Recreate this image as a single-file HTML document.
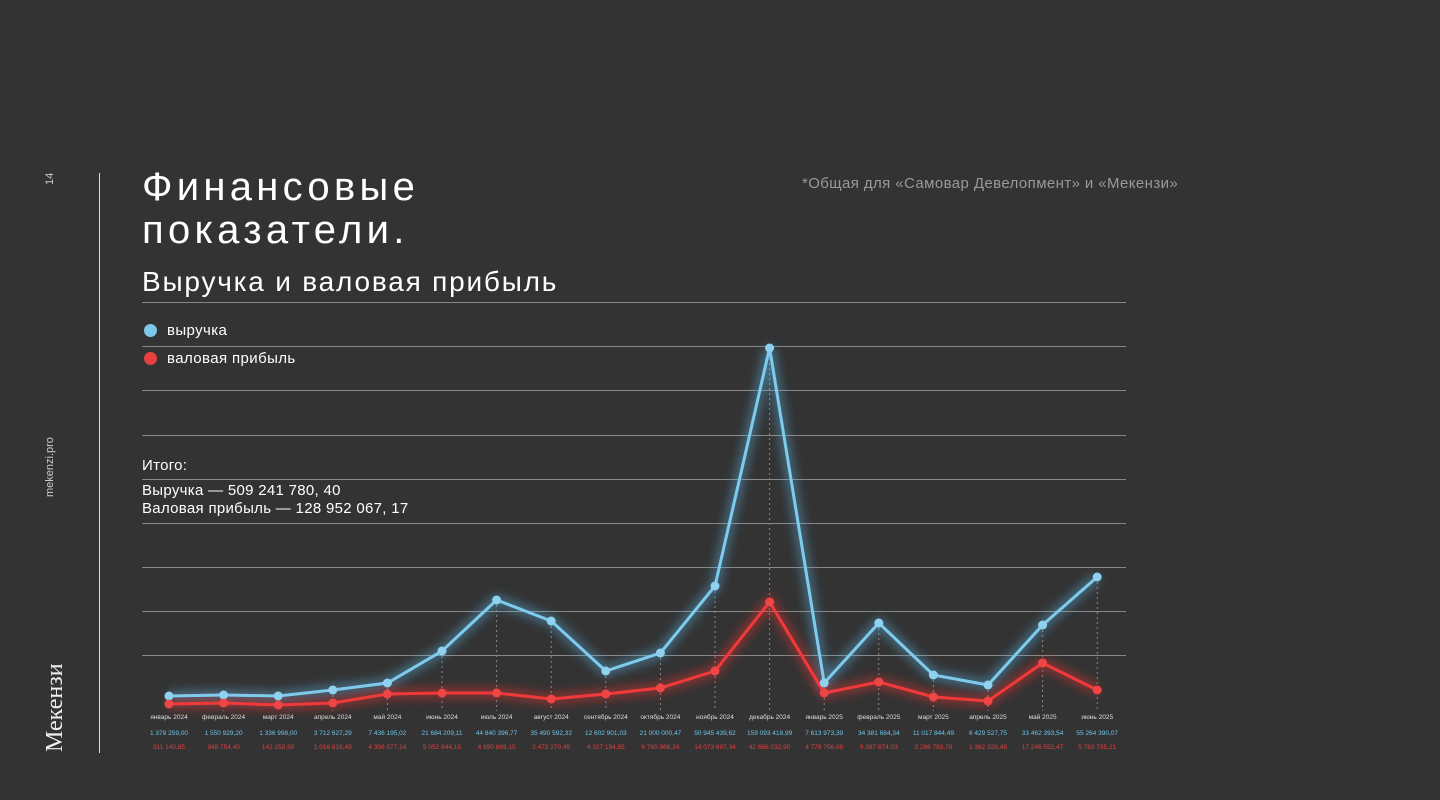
<!DOCTYPE html>
<html><head><meta charset="utf-8"><style>
body{margin:0;width:1440px;height:800px;background:#333333;overflow:hidden;font-family:"Liberation Sans",sans-serif;position:relative;color:#fff}
.a{position:absolute;white-space:nowrap}
</style></head><body>
<div class="a" style="left:99px;top:173px;width:1px;height:580px;background:#ddd"></div>
<div class="a" style="left:44px;top:185px;transform:rotate(-90deg);transform-origin:0 0;font-size:11px;color:#ccc">14</div>
<div class="a" style="left:44px;top:497px;transform:rotate(-90deg);transform-origin:0 0;font-size:11px;color:#ccc">mekenzi.pro</div>
<div class="a" style="left:42px;top:752px;transform:rotate(-90deg);transform-origin:0 0;font-size:24px;font-family:'Liberation Serif',serif;color:#eee">Мекензи</div>
<div class="a" style="left:142px;top:166px;font-size:40px;line-height:43px;letter-spacing:4.3px">Финансовые<br>показатели.</div>
<div class="a" style="left:142px;top:266px;font-size:28px;letter-spacing:1.8px">Выручка и валовая прибыль</div>
<div class="a" style="left:802px;top:175px;font-size:15px;color:#999;letter-spacing:0.4px">*Общая для «Самовар Девелопмент» и «Мекензи»</div>
<div class="a" style="left:144px;top:324px;width:13px;height:13px;border-radius:50%;background:#7cc8ea"></div>
<div class="a" style="left:167px;top:322px;font-size:15px;letter-spacing:0.4px">выручка</div>
<div class="a" style="left:144px;top:352px;width:13px;height:13px;border-radius:50%;background:#e84040"></div>
<div class="a" style="left:167px;top:350px;font-size:15px;letter-spacing:0.4px">валовая прибыль</div>
<div class="a" style="left:142px;top:457px;font-size:15px;letter-spacing:0.3px">Итого:</div>
<div class="a" style="left:142px;top:482px;font-size:15px;line-height:18px;letter-spacing:0.3px">Выручка — 509 241 780, 40<br>Валовая прибыль — 128 952 067, 17</div>
<svg class="a" style="left:0;top:0" width="1440" height="800">
<defs><filter id="g" x="-20%" y="-20%" width="140%" height="140%"><feGaussianBlur stdDeviation="5"/></filter></defs>
<g stroke="#888" stroke-width="1">
<line x1="142" y1="302.5" x2="1126" y2="302.5"/><line x1="142" y1="346.5" x2="1126" y2="346.5"/><line x1="142" y1="390.5" x2="1126" y2="390.5"/><line x1="142" y1="435.5" x2="1126" y2="435.5"/><line x1="142" y1="479.5" x2="1126" y2="479.5"/><line x1="142" y1="523.5" x2="1126" y2="523.5"/><line x1="142" y1="567.5" x2="1126" y2="567.5"/><line x1="142" y1="611.5" x2="1126" y2="611.5"/><line x1="142" y1="655.5" x2="1126" y2="655.5"/>
</g>
<g id="v" stroke="#888" stroke-dasharray="2,3" stroke-width="1"></g>
<polyline id="bg" fill="none" stroke="#5ab8e8" stroke-width="10" opacity=".45" filter="url(#g)"/>
<polyline id="rg" fill="none" stroke="#ff3030" stroke-width="10" opacity=".45" filter="url(#g)"/>
<polyline id="b" fill="none" stroke="#7fcbee" stroke-width="3"/>
<polyline id="r" fill="none" stroke="#f03a3a" stroke-width="3"/>
<g id="d"></g>
<g id="t" font-family="Liberation Sans,sans-serif" font-size="6.5" text-anchor="middle"></g>
</svg>
<script>
var xs=[],B=[696,695,696,690,683,651,600,621,671,653,586,348,683,623,675,685,625,577],R=[704,703,705,703,694,693,693,699,694,688,671,602,693,682,697,701,663,690];
for(var i=0;i<18;i++)xs.push(169+i*54.6);
var m=["январь 2024","февраль 2024","март 2024","апрель 2024","май 2024","июнь 2024","июль 2024","август 2024","сентябрь 2024","октябрь 2024","ноябрь 2024","декабрь 2024","январь 2025","февраль 2025","март 2025","апрель 2025","май 2025","июнь 2025"];
var bv=["1 378 259,00","1 550 929,20","1 336 998,00","3 712 627,29","7 436 195,02","21 684 209,11","44 840 396,77","35 490 592,32","12 602 901,03","21 000 000,47","50 945 439,62","159 093 418,99","7 613 973,39","34 381 684,34","11 017 844,49","6 429 527,75","33 462 393,54","55 264 390,07"];
var rv=["311 140,85","948 754,40","142 250,50","1 016 818,49","4 308 577,14","5 052 644,15","4 990 889,15","2 472 270,49","4 327 194,85","6 785 966,24","14 073 697,34","42 666 032,90","4 778 756,69","9 397 674,03","3 266 783,79","1 382 328,48","17 246 552,47","5 783 735,21"];
var pb=xs.map((x,i)=>x+","+B[i]).join(" "),pr=xs.map((x,i)=>x+","+R[i]).join(" ");
["b","bg"].forEach(id=>document.getElementById(id).setAttribute("points",pb));
["r","rg"].forEach(id=>document.getElementById(id).setAttribute("points",pr));
var v="",d="",t="";
for(i=0;i<18;i++){var x=xs[i];
v+='<line x1="'+x+'" y1="'+B[i]+'" x2="'+x+'" y2="711"/>';
d+='<circle cx="'+x+'" cy="'+B[i]+'" r="4.5" fill="#8fd2f0"/><circle cx="'+x+'" cy="'+R[i]+'" r="4.5" fill="#f04545"/>';
t+='<text x="'+x+'" y="719" fill="#ddd">'+m[i]+'</text><text x="'+x+'" y="735" fill="#6cc4ea">'+bv[i]+'</text><text x="'+x+'" y="749" fill="#e04040">'+rv[i]+'</text>';}
document.getElementById("v").innerHTML=v;document.getElementById("d").innerHTML=d;document.getElementById("t").innerHTML=t;
</script>
</body></html>
